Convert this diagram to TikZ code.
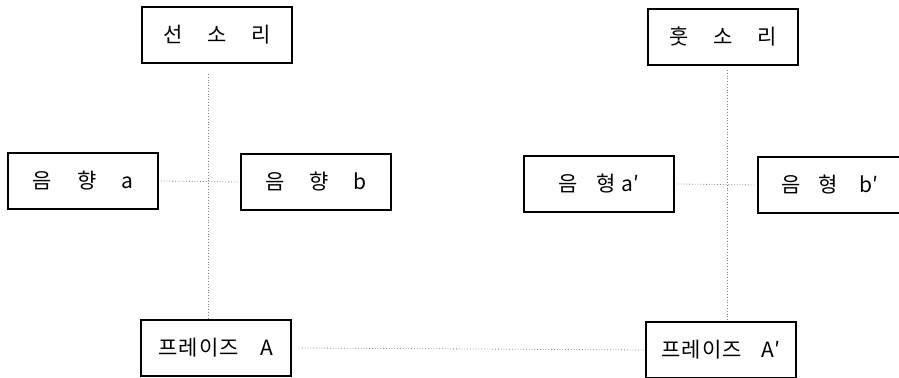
\documentclass[tikz,border=0pt]{standalone}
\usepackage{fontspec}
\setmainfont{Noto Sans CJK KR}
\begin{document}
\begin{tikzpicture}[x=0.5pt,y=-0.5pt,
    box/.style={draw,line width=1pt,minimum width=75pt,minimum height=28pt,
      inner sep=0pt,font=\fontsize{10.5}{12}\selectfont},
    link/.style={densely dotted,gray,line width=0.4pt}]
  \useasboundingbox (0,0) rectangle (899,378);
  \clip (0,0) rectangle (899,378);
  \coordinate (colL) at (208,0);
  \coordinate (colR) at (727,0);
  % left
  \draw (217,35) node[box](sun){선\hspace{12.5pt}소\hspace{12.5pt}리};
  \draw (83,181) node[box](hyangA){음\hspace{12.5pt}향\hspace{12.5pt}a};
  \draw (316,182) node[box](hyangB){음\hspace{12.5pt}향\hspace{12.5pt}b};
  \draw (216,348) node[box](phA){프\hspace{0.5pt}레\hspace{0.5pt}이\hspace{0.5pt}즈\hspace{11pt}A};
  % right
  \draw (723,37) node[box](hut){훗\hspace{12.5pt}소\hspace{12.5pt}리};
  \draw (599,184) node[box](hyeongA){음\hspace{9pt}형\hspace{3pt}a′\hspace{9pt}};
  \draw (830,185) node[box,minimum width=72pt](hyeongB){음\hspace{9pt}형\hspace{11pt}b′};
  \draw (721,350) node[box](phB){프\hspace{0.5pt}레\hspace{0.5pt}이\hspace{0.5pt}즈\hspace{10pt}A′};
  % links
  \draw[link] ([yshift=-5pt]sun.south -| colL) -- (phA.north -| colL);
  \draw[link] ([yshift=-2pt]hut.south -| colR) -- (phB.north -| colR);
  \draw[link] ([xshift=1pt]hyangA.east) -- ([xshift=-1pt]hyangB.west);
  \draw[link] ([xshift=1.5pt]hyeongA.east) -- ([xshift=-0.5pt]hyeongB.west);
  \draw[link] ([xshift=5pt]phA.east) -- (phB.west);
\end{tikzpicture}
\end{document}
